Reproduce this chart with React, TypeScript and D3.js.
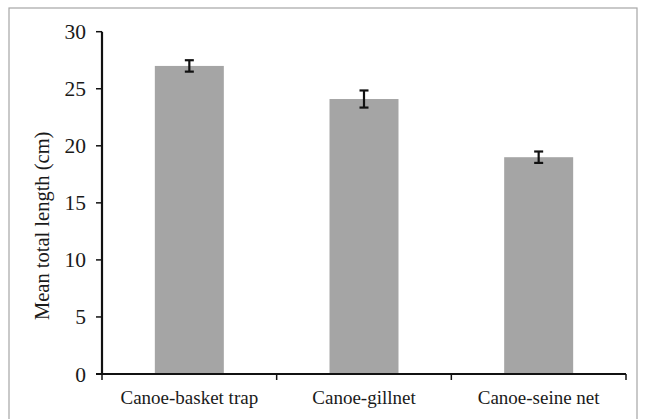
import React from "react";
import * as d3 from "d3";

const categories = ["Canoe-basket trap", "Canoe-gillnet", "Canoe-seine net"];
const meanLength = [27, 24.1, 19];
const stdError = [0.5, 0.75, 0.5];
const yTicks = [0, 5, 10, 15, 20, 25, 30];

const W = 645;
const H = 419;
const plot = { left: 102, right: 626, top: 31.7, bottom: 374 };

export default function App() {
  const x = d3
    .scaleBand<string>()
    .domain(categories)
    .range([plot.left, plot.right])
    .paddingInner(0.605)
    .paddingOuter(0.3025);
  const y = d3.scaleLinear().domain([0, 30]).range([plot.bottom, plot.top]);
  const step = x.step();
  const bandEdges = categories.map((c) => (x(c) as number) - x.paddingInner() * step / 2);
  const serif = "'Liberation Serif', 'DejaVu Serif', serif";
  const capHalf = 4.5;

  return (
    <svg
      width={W}
      height={H}
      style={{ position: "fixed", left: 0, top: 0, background: "#fff" }}
    >
      <rect x={9} y={8} width={628} height={430} fill="#fff" stroke="#a6a6a6" strokeWidth={1.2} />

      {categories.map((c, i) => (
        <rect
          key={c}
          x={x(c)}
          y={y(meanLength[i])}
          width={x.bandwidth()}
          height={y(0) - y(meanLength[i])}
          fill="#a5a5a5"
        />
      ))}

      {categories.map((c, i) => {
        const cx = (x(c) as number) + x.bandwidth() / 2;
        const hi = y(meanLength[i] + stdError[i]);
        const lo = y(meanLength[i] - stdError[i]);
        return (
          <g key={"e" + c} stroke="#111" strokeWidth={2.2}>
            <line x1={cx} x2={cx} y1={hi} y2={lo} />
            <line x1={cx - capHalf} x2={cx + capHalf} y1={hi} y2={hi} />
            <line x1={cx - capHalf} x2={cx + capHalf} y1={lo} y2={lo} />
          </g>
        );
      })}

      {/* y axis */}
      <line x1={plot.left} x2={plot.left} y1={plot.top} y2={plot.bottom} stroke="#111" strokeWidth={2.2} />
      {yTicks.map((t) => (
        <g key={t}>
          <line x1={plot.left - 6} x2={plot.left} y1={y(t)} y2={y(t)} stroke="#111" strokeWidth={1.5} />
          <text
            x={86}
            y={y(t)}
            dy="0.35em"
            textAnchor="end"
            fontFamily={serif}
            fontSize={21.5}
            fill="#1a1a1a"
          >
            {t}
          </text>
        </g>
      ))}

      {/* x axis */}
      <line x1={plot.left - 6} x2={plot.right} y1={plot.bottom} y2={plot.bottom} stroke="#111" strokeWidth={2.2} />
      {[...bandEdges, plot.right].map((ex, i) => (
        <line key={"t" + i} x1={ex} x2={ex} y1={plot.bottom} y2={plot.bottom + 6} stroke="#111" strokeWidth={1.5} />
      ))}
      {categories.map((c) => (
        <text
          key={"l" + c}
          x={(x(c) as number) + x.bandwidth() / 2}
          y={404}
          textAnchor="middle"
          fontFamily={serif}
          fontSize={19}
          fill="#1a1a1a"
        >
          {c}
        </text>
      ))}

      <text
        transform="translate(49, 320) rotate(-90)"
        textAnchor="start"
        fontFamily={serif}
        fontSize={20.5}
        fill="#1a1a1a"
      >
        Mean total length (cm)
      </text>
    </svg>
  );
}
